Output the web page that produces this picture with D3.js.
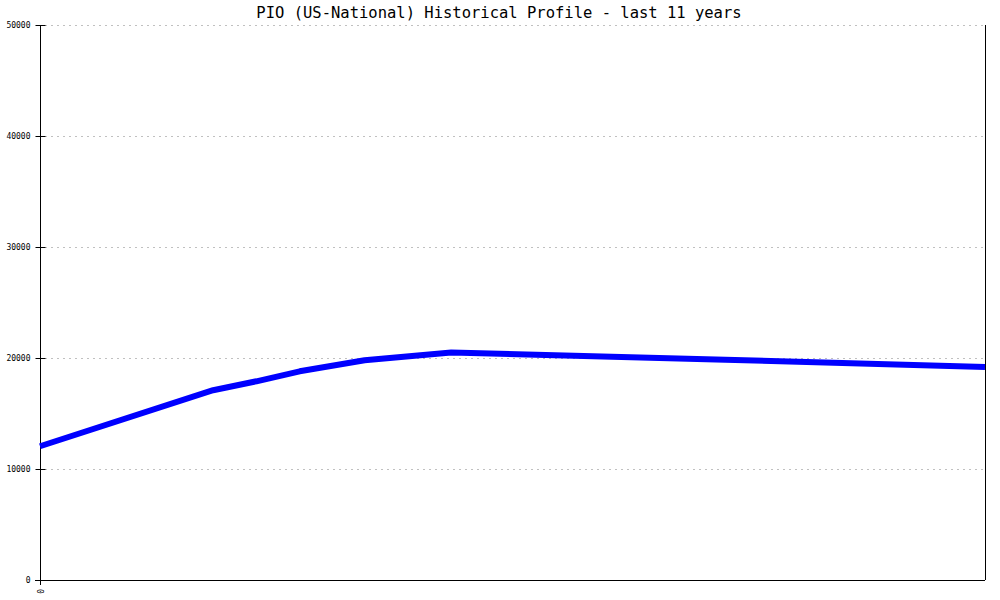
<!DOCTYPE html>
<html>
<head>
<meta charset="utf-8">
<script src="https://cdn.jsdelivr.net/npm/d3@7"></script>
<style>
  body { margin: 0; background: #fff; }
  text { font-family: 'DejaVu Sans Mono', monospace; }
</style>
</head>
<body>
<div id="chart"></div>
<script>
// months since start of the 11 year window, and the profile value at each
let months = [0, 24, 30, 36, 45, 57, 95, 131]
let values = [12050, 17100, 17900, 18800, 19800, 20500, 19850, 19200]
let yTicks = [0, 10000, 20000, 30000, 40000, 50000]
let xTickLabels = ['0']
let title = 'PIO (US-National) Historical Profile - last 11 years'

let margin = { top: 25, left: 40, right: 15, bottom: 20 }
let width = 1000 - margin.left - margin.right
let height = 600 - margin.top - margin.bottom

let svg = d3
  .select('#chart')
  .append('svg')
  .attr('width', 1000)
  .attr('height', 600)

let g = svg
  .append('g')
  .attr('transform', 'translate(' + margin.left + ',' + margin.top + ')')

let xPositionScale = d3.scaleLinear().domain([0, 131]).range([0, width])
let yPositionScale = d3.scaleLinear().domain([0, 50000]).range([height, 0])

let datapoints = months.map((m, i) => ({ month: m, value: values[i] }))

svg
  .append('text')
  .attr('x', 499)
  .attr('y', 18)
  .attr('text-anchor', 'middle')
  .attr('font-size', 15.5)
  .attr('fill', '#000')
  .text(title)

// dotted grid lines
g.selectAll('.grid')
  .data(yTicks.filter(d => d > 0))
  .enter()
  .append('line')
  .attr('class', 'grid')
  .attr('x1', 5)
  .attr('x2', width)
  .attr('y1', d => Math.round(yPositionScale(d)) + 0.5)
  .attr('y2', d => Math.round(yPositionScale(d)) + 0.5)
  .attr('stroke', '#c0c0c0')
  .attr('stroke-dasharray', '2,4')

let yAxis = d3
  .axisLeft(yPositionScale)
  .tickValues(yTicks)
  .tickSize(5)
  .tickPadding(5)
  .tickFormat(d3.format('d'))
g.append('g')
  .attr('class', 'axis y-axis')
  .attr('transform', 'translate(0.5,0)')
  .call(yAxis)
  .call(s => s.select('.domain').remove())
  .call(s => s.selectAll('.tick line').attr('x2', 5).attr('x1', -5))
  .call(s =>
    s
      .selectAll('text')
      .attr('font-family', 'DejaVu Sans Mono, monospace')
      .attr('font-size', 8)
      .attr('fill', '#000')
  )

// frame lines
g.append('line')
  .attr('x1', 0.5).attr('x2', 0.5)
  .attr('y1', 0).attr('y2', height + 5)
  .attr('stroke', '#000')
g.append('line')
  .attr('x1', width + 0.5).attr('x2', width + 0.5)
  .attr('y1', 0).attr('y2', height)
  .attr('stroke', '#000')
g.append('line')
  .attr('x1', -5).attr('x2', width)
  .attr('y1', height + 0.5).attr('y2', height + 0.5)
  .attr('stroke', '#000')

g.selectAll('.x-label')
  .data(xTickLabels)
  .enter()
  .append('text')
  .attr('class', 'x-label')
  .attr('transform', (d, i) => 'translate(' + (xPositionScale(i) - 3) + ',' + (height + 9) + ') rotate(90)')
  .attr('text-anchor', 'start')
  .attr('font-size', 8)
  .attr('fill', '#000')
  .text(d => d)

let line = d3
  .line()
  .x(d => xPositionScale(d.month))
  .y(d => yPositionScale(d.value))

g.append('path')
  .datum(datapoints)
  .attr('d', line)
  .attr('fill', 'none')
  .attr('stroke', '#0000ff')
  .attr('stroke-width', 6)
  .attr('stroke-linejoin', 'round')
</script>
</body>
</html>
